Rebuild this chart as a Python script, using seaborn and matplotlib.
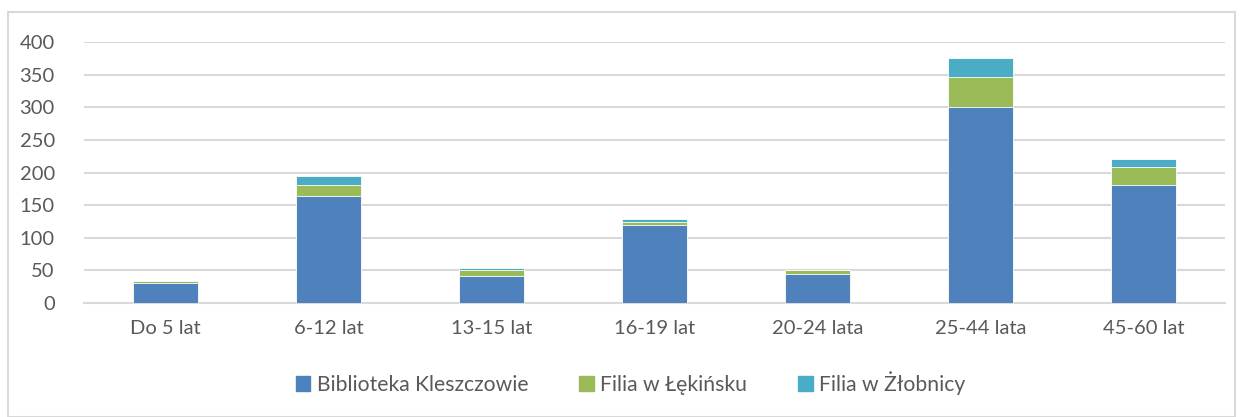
import matplotlib
matplotlib.use("Agg")
import matplotlib.pyplot as plt
from matplotlib.patches import Rectangle
import pandas as pd
import seaborn as sns

categories = ["Do 5 lat", "6-12 lat", "13-15 lat", "16-19 lat", "20-24 lata", "25-44 lata", "45-60 lat"]
kleszczowie = [31, 164, 42, 120, 45, 301, 181]
lekinsko = [2, 17, 8, 5, 5, 45, 27]
zlobnica = [1, 14, 4, 4, 0, 30, 13]
series_names = ["Biblioteka Kleszczowie", "Filia w Łękińsku", "Filia w Żłobnicy"]
series_colors = ["#4f81bd", "#9bbb59", "#4bacc6"]
yticks = [0, 50, 100, 150, 200, 250, 300, 350, 400]

sns.set_theme(style="white")
plt.rcParams["font.family"] = ["Lato", "DejaVu Sans"]
text_color = "#595959"
grid_color = "#d9d9d9"

fig = plt.figure(figsize=(12.41, 4.17), dpi=100)
ax = fig.add_axes([0.0677, 0.2734, 0.9194, 0.6252])

# stacked bars, bottom to top
df = pd.DataFrame({"cat": categories, "a": kleszczowie, "b": lekinsko, "c": zlobnica})
df["ab"] = df["a"] + df["b"]
df["abc"] = df["ab"] + df["c"]
for col, color in zip(["abc", "ab", "a"], series_colors[::-1]):
    sns.barplot(data=df, x="cat", y=col, color=color, width=0.4, saturation=1,
                edgecolor="white", linewidth=0.6, ax=ax, zorder=3)

ax.set_ylim(0, 400)
ax.set_xlim(-0.5, len(categories) - 0.5)
ax.set_yticks(yticks)
ax.set_xlabel("")
ax.set_ylabel("")
ax.yaxis.grid(True, color=grid_color, linewidth=1.5, zorder=0)
ax.set_axisbelow(True)
for s in ["top", "right", "left"]:
    ax.spines[s].set_visible(False)
ax.spines["bottom"].set_color(grid_color)
ax.spines["bottom"].set_linewidth(1.5)
ax.tick_params(axis="y", length=0, pad=21, labelsize=14.5, labelcolor=text_color)
ax.tick_params(axis="x", length=0, pad=12, labelsize=14.5, labelcolor=text_color)

handles = [Rectangle((0, 0), 1, 1, color=c) for c in series_colors]
fig.legend(handles, series_names, loc="center", bbox_to_anchor=(0.508, 0.082), ncol=3,
           frameon=False, fontsize=15.2, labelcolor=text_color, handlelength=0.7,
           handleheight=0.7, handletextpad=0.3, columnspacing=2.4)

fig.patches.append(Rectangle((0.0065, 0.0), 0.9885, 0.971, transform=fig.transFigure,
                             fill=False, edgecolor=grid_color, linewidth=1.5))

fig.savefig("out.png", dpi=100)
